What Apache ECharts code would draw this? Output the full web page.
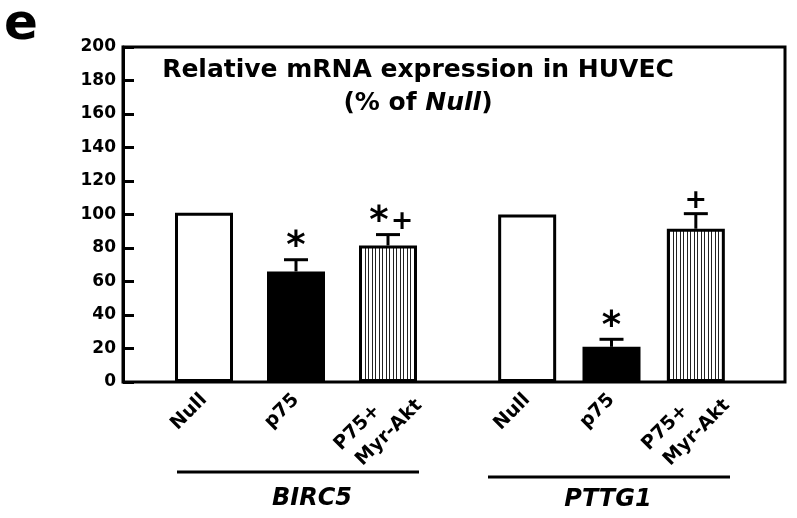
<!DOCTYPE html>
<html>
<head>
<meta charset="utf-8">
<script src="https://cdn.jsdelivr.net/npm/echarts@6/dist/echarts.min.js"></script>
<style>
  html, body { margin: 0; padding: 0; background: #fff; }
  #chart { width: 797px; height: 518px; }
</style>
</head>
<body>
<div id="chart"></div>
<script>
// data (% of Null)
const conditions = ['Null', 'p75', ' \nP75+     \nMyr-Akt'];
const genes = ['BIRC5', 'PTTG1'];
const birc5Mean = [101, 66, 81.5];
const birc5Err = [0, 7, 6.5];
const birc5Marks = ['', '*', '*+'];
const pttg1Mean = [100, 21, 91.5];
const pttg1Err = [0, 4.5, 9];
const pttg1Marks = ['', '*', '+'];
const yMin = 0, yMax = 200, yStep = 20;

const FONT = 'DejaVu Sans';

// vertical stripe fill for the P75+Myr-Akt bars
const stripe = document.createElement('canvas');
stripe.width = 7;
stripe.height = 8;
const sctx = stripe.getContext('2d');
sctx.fillStyle = '#fff';
sctx.fillRect(0, 0, 7, 8);
sctx.fillStyle = '#222';
sctx.fillRect(1, 0, 1, 8);
sctx.fillRect(4, 0, 1, 8);

const barStyles = [
  { color: '#fff', borderColor: '#000', borderWidth: 3 },
  { color: '#000', borderColor: '#000', borderWidth: 3 },
  { color: { image: stripe, repeat: 'repeat' }, borderColor: '#000', borderWidth: 3 }
];

const makeBars = (means, idx) => ({
  type: 'bar',
  xAxisIndex: idx,
  yAxisIndex: idx,
  barWidth: 58,
  silent: true,
  data: means.map((v, i) => ({ value: v, itemStyle: barStyles[i] }))
});

// glyph settings for the significance marks
const markFont = { '*': 'bold 37px ' + FONT, '+': 'bold 27px ' + FONT };
const markLift = { '*': 12, '+': 13 };

// upper error bar + significance marks
const makeErr = (means, errs, marks, idx) => ({
  type: 'custom',
  xAxisIndex: idx,
  yAxisIndex: idx,
  silent: true,
  z: 5,
  data: means.map((v, i) => [i, v, errs[i]]),
  renderItem: function (params, api) {
    const i = api.value(0);
    const m = api.value(1);
    const e = api.value(2);
    const base = api.coord([i, m]);
    const top = api.coord([i, m + e]);
    const children = [];
    if (e > 0) {
      children.push({
        type: 'line',
        shape: { x1: base[0], y1: base[1], x2: top[0], y2: top[1] },
        style: { stroke: '#000', lineWidth: 3 }
      });
      children.push({
        type: 'line',
        shape: { x1: top[0] - 12, y1: top[1], x2: top[0] + 12, y2: top[1] },
        style: { stroke: '#000', lineWidth: 3 }
      });
    }
    const chars = marks[i].split('');
    const dx = chars.length > 1 ? [-9, 14] : [0];
    chars.forEach((c, k) => {
      children.push({
        type: 'text',
        x: top[0] + dx[k],
        y: top[1] - markLift[c],
        style: {
          text: c,
          font: markFont[c],
          fill: '#000',
          align: 'center',
          verticalAlign: 'middle'
        }
      });
    });
    return { type: 'group', children: children };
  }
});

const catAxis = (idx) => ({
  type: 'category',
  gridIndex: idx,
  data: conditions.map((c, i) => i === 2
    ? { value: c, textStyle: { padding: [0, -18, 0, 0] } }
    : c),
  axisLine: { show: false },
  axisTick: { show: false },
  axisLabel: {
    rotate: 45,
    margin: 15,
    color: '#000',
    fontFamily: FONT,
    fontWeight: 'bold',
    fontSize: 19,
    lineHeight: 26,
    interval: 0
  }
});
const hiddenY = (idx) => ({
  type: 'value', gridIndex: idx, min: yMin, max: yMax, show: false
});

const option = {
  animation: false,
  backgroundColor: '#fff',
  grid: [
    { left: 123, right: 12, top: 47, bottom: 136, show: true, borderColor: '#000', borderWidth: 3 },
    { left: 158, right: 363, top: 47, bottom: 136 },
    { left: 485, right: 59, top: 47, bottom: 136 }
  ],
  xAxis: [
    { type: 'value', gridIndex: 0, min: 0, max: 1, show: false },
    catAxis(1),
    catAxis(2)
  ],
  yAxis: [
    {
      type: 'value',
      gridIndex: 0,
      min: yMin,
      max: yMax,
      interval: yStep,
      axisLine: { show: true, lineStyle: { color: '#000', width: 3 } },
      axisTick: { show: true, inside: true, length: 11, lineStyle: { color: '#000', width: 3 } },
      splitLine: { show: false },
      axisLabel: {
        margin: 7,
        color: '#000',
        fontFamily: FONT,
        fontWeight: 'bold',
        fontSize: 17
      }
    },
    hiddenY(1),
    hiddenY(2)
  ],
  graphic: [
    {
      type: 'text', left: 4, top: 1,
      style: { text: 'e', font: 'bold 50px ' + FONT, fill: '#000' }
    },
    {
      type: 'text', x: 418, y: 54,
      style: {
        text: '{b|Relative mRNA expression in HUVEC}\n{b|(% of }{i|Null}{b|)}',
        align: 'center',
        verticalAlign: 'top',
        rich: {
          b: { fontFamily: FONT, fontWeight: 'bold', fontSize: 25, lineHeight: 33, fill: '#000' },
          i: { fontFamily: FONT, fontWeight: 'bold', fontStyle: 'italic', fontSize: 25, lineHeight: 33, fill: '#000' }
        }
      }
    },
    {
      type: 'line', shape: { x1: 177, y1: 472, x2: 419, y2: 472 },
      style: { stroke: '#000', lineWidth: 3 }
    },
    {
      type: 'line', shape: { x1: 488, y1: 477, x2: 730, y2: 477 },
      style: { stroke: '#000', lineWidth: 3 }
    },
    {
      type: 'text', x: 312, y: 499,
      style: { text: genes[0], font: 'italic bold 24px ' + FONT, fill: '#000', align: 'center', verticalAlign: 'middle' }
    },
    {
      type: 'text', x: 608, y: 500,
      style: { text: genes[1], font: 'italic bold 24px ' + FONT, fill: '#000', align: 'center', verticalAlign: 'middle' }
    }
  ],
  series: [
    makeBars(birc5Mean, 1),
    makeBars(pttg1Mean, 2),
    makeErr(birc5Mean, birc5Err, birc5Marks, 1),
    makeErr(pttg1Mean, pttg1Err, pttg1Marks, 2)
  ]
};

const chart = echarts.init(document.getElementById('chart'));
chart.setOption(option);
</script>
</body>
</html>
